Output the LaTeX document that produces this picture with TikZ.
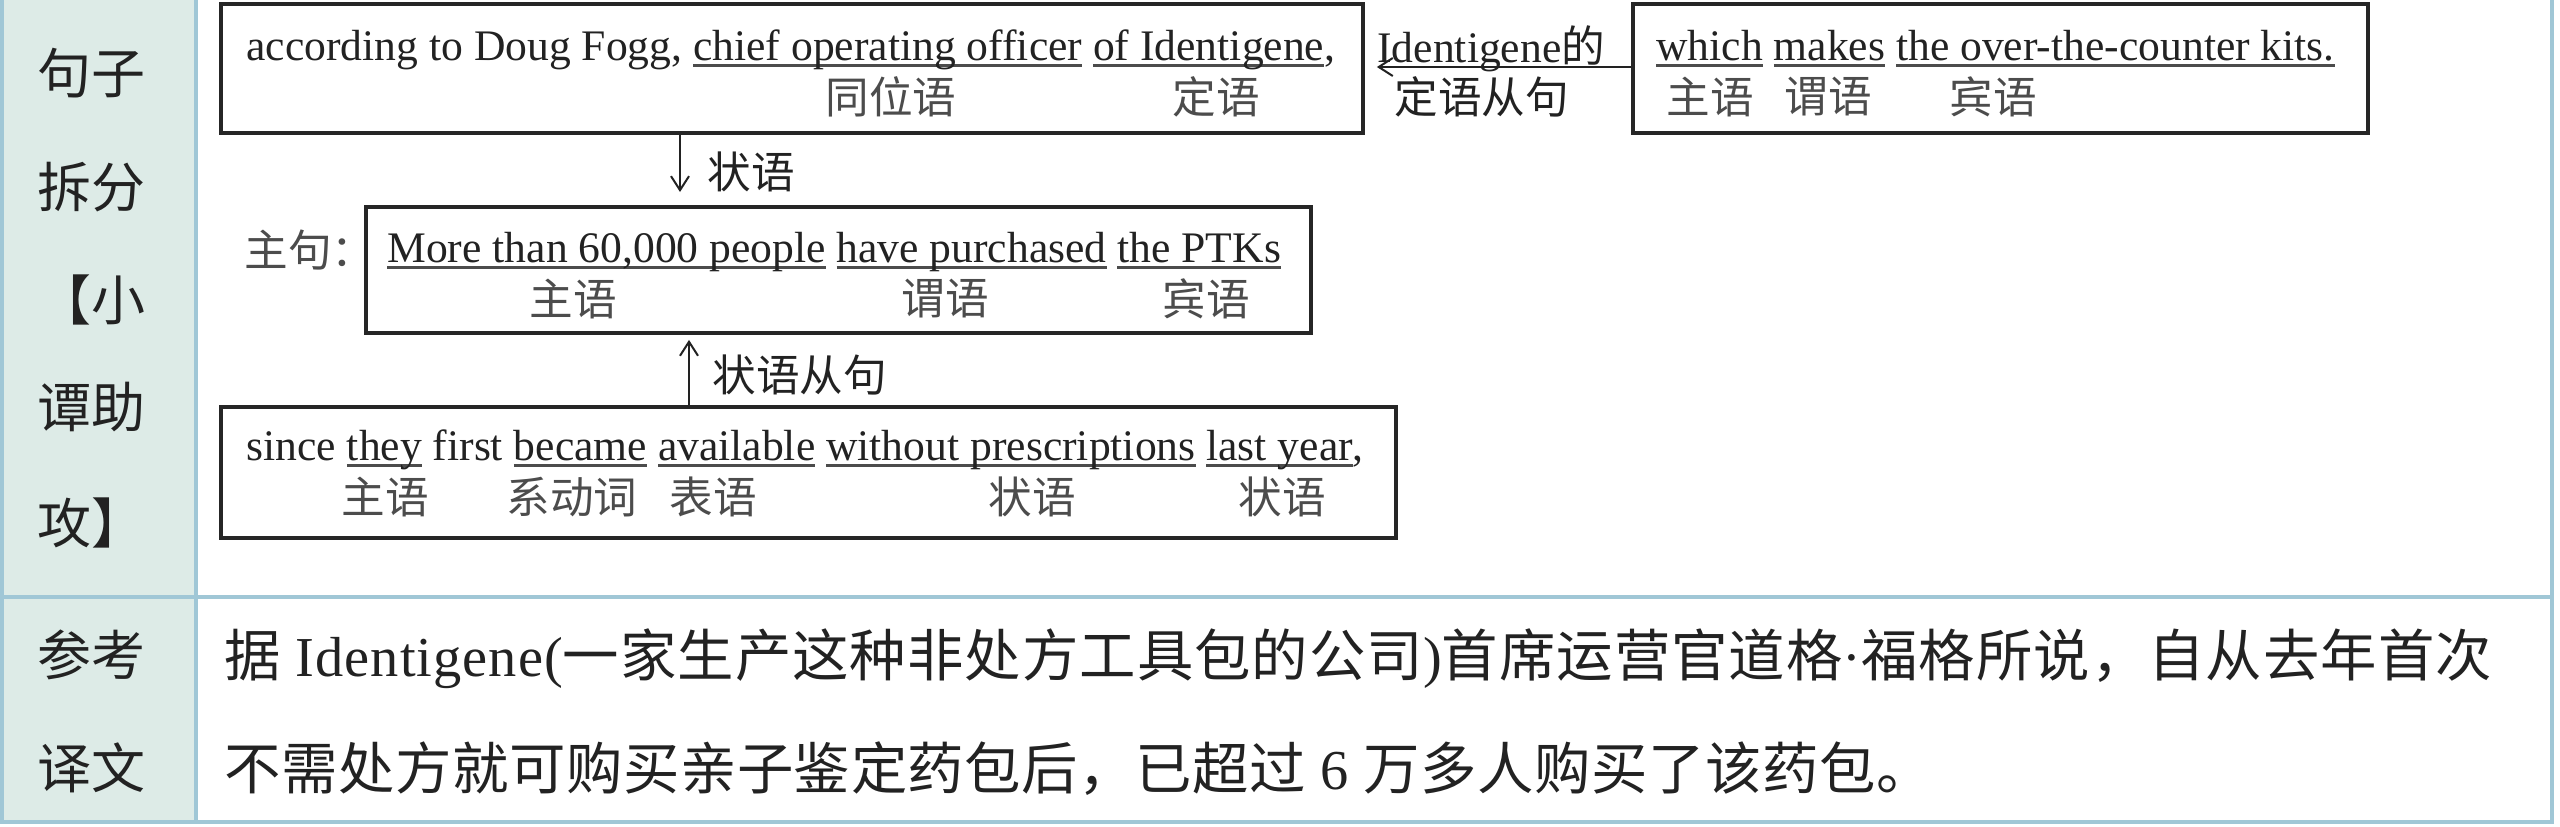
\documentclass[tikz,border=0pt]{standalone}
\usepackage{fontspec}
\setmainfont{Liberation Serif}
\newfontfamily\cjk{Noto Sans CJK SC}
\usetikzlibrary{arrows.meta}
\definecolor{colbg}{RGB}{221,235,231}
\definecolor{tblline}{RGB}{160,199,214}
\definecolor{ink}{RGB}{34,34,34}
\newcommand\entext{\fontsize{21.8pt}{26pt}\selectfont}
\newcommand\cjklab{\cjk\fontsize{21.8pt}{26pt}\selectfont}
\newcommand\sidetext{\cjk\fontsize{27pt}{30pt}\selectfont}
\newcommand\bodytext{\fontsize{28.2pt}{32pt}\selectfont}
\newsavebox\ulbox
\newcommand\ulw[1]{\sbox\ulbox{#1}\rlap{\color{black!70}\rule[-0.17em]{\wd\ulbox}{0.07em}}\usebox\ulbox}
\newcommand\lsA{\addfontfeature{LetterSpace=1.8}}
\newcommand\lsB{\addfontfeature{LetterSpace=1.0}}
\begin{document}
\begin{tikzpicture}[x=0.5pt,y=-0.5pt,
  box/.style={draw=black!85, line width=1.9pt, inner sep=0pt},
  en/.style={anchor=base west, inner sep=0pt, font=\entext, text=ink},
  lab/.style={inner sep=0pt, font=\cjklab, text=black!70},
  side/.style={inner sep=0pt, font=\sidetext, text=ink},
  body/.style={anchor=base west, inner sep=0pt, font=\bodytext, text=ink},
  arr/.style={line width=1pt, draw=ink, -{Straight Barb[length=7pt,width=9pt]}},
  tline/.style={draw=tblline, line width=2pt}]
\useasboundingbox (0,0) rectangle (2560,826);
\fill[white] (0,0) rectangle (2560,826);
\fill[colbg] (0,0) rectangle (196,822);
\draw[tline] (2,0) -- (2,822);
\draw[tline] (196,0) -- (196,822);
\draw[tline] (2552,0) -- (2552,822);
\draw[tline] (0,597) -- (2554,597);
\draw[tline] (0,822) -- (2554,822);

% left column
\node[side] (s1) at (92,73) {句子};
\node[side] (s2) at (92,187) {拆分};
\node[side] (s3) at (92,300) {【小};
\node[side] (s4) at (92,407) {谭助};
\node[side] (s5) at (92,523) {攻】};
\node[side] (s6) at (92,655) {参考};
\node[side] (s7) at (92,768) {译文};

% boxes
\node[box, minimum width=571pt, minimum height=64.5pt] (b1) at (792,68.5) {};
\node[box, minimum width=367.5pt, minimum height=64.5pt] (b2) at (2000.5,68.5) {};
\node[box, minimum width=472.5pt, minimum height=63pt] (b3) at (838.5,270) {};
\node[box, minimum width=587.5pt, minimum height=65.5pt] (b4) at (808.5,472.5) {};

% box 1
\node[en] (e1) at (246,60) {according to Doug Fogg, \ulw{chief operating officer} \ulw{of Identigene},};
\node[lab] (l11) at (891,97) {同位语};
\node[lab] (l12) at (1216,97) {定语};

% box 2
\node[en] (e2) at (1656,60) {\ulw{which} \ulw{makes} \ulw{the over-the-counter kits.}};
\node[lab] (l21) at (1710,97) {主语};
\node[lab] (l22) at (1828,97) {谓语};
\node[lab] (l23) at (1993,97) {宾语};

% box 3
\node[lab, anchor=west] (zj) at (244,250) {主句：};
\node[en] (e3) at (387,262) {\ulw{More than 60,000 people} \ulw{have purchased} \ulw{the PTKs}};
\node[lab] (l31) at (573,299) {主语};
\node[lab] (l32) at (945,299) {谓语};
\node[lab] (l33) at (1206,299) {宾语};

% box 4
\node[en] (e4) at (246,460) {since \ulw{they} first \ulw{became} \ulw{available} \ulw{without prescriptions} \ulw{last year},};
\node[lab] (l41) at (385,497) {主语};
\node[lab] (l42) at (572,497) {系动词};
\node[lab] (l43) at (713,497) {表语};
\node[lab] (l44) at (1032,497) {状语};
\node[lab] (l45) at (1282,497) {状语};

% connectors
\coordinate (ay) at (0,67);
\draw[arr, shorten >=6pt] (b2.west |- ay) -- (b1.east |- ay);
\node[en] (c1) at (1377,62) {Identigene{\cjk 的}};
\node[lab, anchor=west, text=ink] (c2) at (1394,97) {定语从句};

\coordinate (d1) at (680,192);
\draw[arr] (b1.south -| d1) -- (d1);
\node[lab, anchor=west, text=ink] (c3) at (707,172) {状语};

\coordinate (u1) at (689,0);
\draw[arr, shorten >=2.5pt] (b4.north -| u1) -- (b3.south -| u1);
\node[lab, anchor=west, text=ink] (c4) at (712,375) {状语从句};

% translation
\node[body] (t1) at (224,676) {\lsA{\cjk\lsA 据} Identigene({\cjk\lsA 一家生产这种非处方工具包的公司})%
{\cjk\lsA 首席运营官道格}·{\cjk\lsA 福格所说，自从去年首次}};
\node[body] (t2) at (224,789) {\lsB{\cjk\lsB 不需处方就可购买亲子鉴定药包后，已超过} 6 {\cjk\lsB 万多人购买了该药包。}};
\end{tikzpicture}
\end{document}
